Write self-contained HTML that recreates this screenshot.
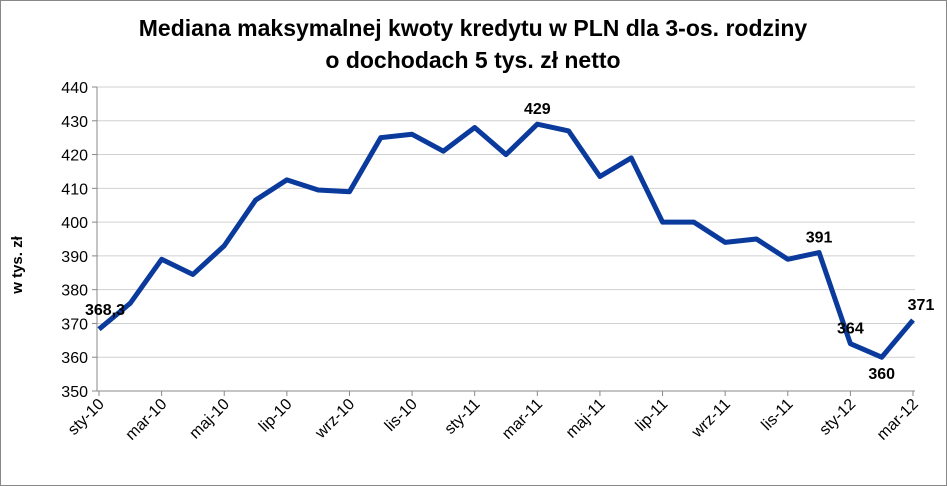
<!DOCTYPE html>
<html><head><meta charset="utf-8"><style>
body{margin:0;background:#fff;}
svg{display:block;font-family:"Liberation Sans",sans-serif;}
</style></head><body>
<svg id="c" width="947" height="486" viewBox="0 0 947 486">
<rect x="0.5" y="0.5" width="946" height="485" fill="#fff" stroke="#888"/>
<text x="473" y="36" text-anchor="middle" font-size="23" font-weight="bold">Mediana maksymalnej kwoty kredytu w PLN dla 3-os. rodziny</text>
<text x="473" y="68" text-anchor="middle" font-size="23" font-weight="bold">o dochodach 5 tys. zł netto</text>
<text transform="translate(22,265) rotate(-90)" text-anchor="middle" font-size="15" font-weight="bold">w tys. zł</text>
<g id="grid"></g><g id="ax"></g><g id="series"></g><g id="labels"></g>
</svg>
<script>
const categories=["sty-10","lut-10","mar-10","kwi-10","maj-10","cze-10","lip-10","sie-10","wrz-10","paź-10","lis-10","gru-10","sty-11","lut-11","mar-11","kwi-11","maj-11","cze-11","lip-11","sie-11","wrz-11","paź-11","lis-11","gru-11","sty-12","lut-12","mar-12"];
const values=[368.3,376,389,384.5,393,406.5,412.5,409.5,409,425,426,421,428,420,429,427,413.5,419,400,400,394,395,389,391,364,360,371];
const yTicks=[350,360,370,380,390,400,410,420,430,440];
const dataLabels=[[0,"368,3"],[14,"429"],[23,"391"],[24,"364"],[25,"360"],[26,"371"]];
const NS="http://www.w3.org/2000/svg";
const x0=99,x1=913,yTop=87,yBot=391;
const X=i=>x0+i*(x1-x0)/(categories.length-1);
const Y=v=>yBot-(v-350)*(yBot-yTop)/90;
function mk(t,a,p){const e=document.createElementNS(NS,t);for(const k in a)e.setAttribute(k,a[k]);p.appendChild(e);return e;}
const g=document.getElementById('grid'),ax=document.getElementById('ax'),s=document.getElementById('series'),lb=document.getElementById('labels');
yTicks.forEach(v=>{
 const l=mk('line',{x1:97,x2:915,y1:Y(v),y2:Y(v),stroke:v===350?'#888':'#d0d0d0'},g);
 
 
 mk('line',{x1:92,x2:97,y1:Y(v),y2:Y(v),stroke:'#888'},ax);
 const t=mk('text',{x:88,y:Y(v)+6,'text-anchor':'end','font-size':16},ax);t.textContent=v;
 
 
});
mk('line',{x1:97,x2:97,y1:yTop,y2:yBot,stroke:'#888'},ax);
categories.forEach((c,i)=>{
 if(i%2)return;
 mk('line',{x1:X(i),x2:X(i),y1:yBot,y2:yBot+5,stroke:'#888'},ax);
 const t=mk('text',{x:X(i)+6,y:yBot+14,'text-anchor':'end','font-size':16,transform:`rotate(-45 ${X(i)+6} ${yBot+14})`},ax);
 t.textContent=c;
 
 
});
const p=mk('polyline',{points:values.map((v,i)=>X(i)+','+Y(v)).join(' '),fill:'none',stroke:'#0a3a9c','stroke-width':5,'stroke-linejoin':'round'},s);


dataLabels.forEach(([i,txt])=>{
 let dx=0,dy=-10,anc='middle';
 if(i===0){dx=6;dy=-14;}
 if(i===25){dy=22;}
 if(i===26){dx=8;dy=-10;}
 const t=mk('text',{x:X(i)+dx,y:Y(values[i])+dy,'text-anchor':anc,'font-size':16,'font-weight':'bold'},lb);
 t.textContent=txt;
 
 
});
</script>
</body></html>
